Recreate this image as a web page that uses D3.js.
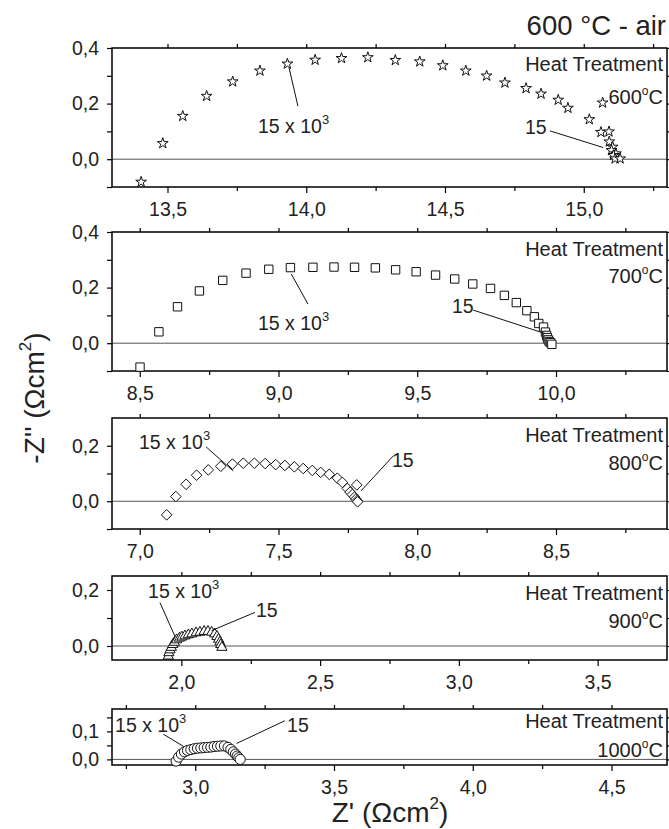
<!DOCTYPE html>
<html>
<head>
<meta charset="utf-8">
<script src="https://cdn.jsdelivr.net/npm/d3@7"></script>
<style>
body { margin: 0; background: #fff; }
svg { display: block; }
text { font-family: "Liberation Sans", Arial, sans-serif; }
</style>
</head>
<body>
<div id="chart"></div>
<script>
// impedance spectra, Z' vs -Z'' (Ohm cm2), one panel per heat treatment
let temps = ["600", "700", "800", "900", "1000"];

let z600 = [[13.405,-0.082],[13.483,0.057],[13.555,0.155],[13.641,0.227],[13.735,0.279],[13.833,0.318],
  [13.932,0.343],[14.032,0.357],[14.127,0.363],[14.222,0.366],[14.321,0.356],[14.409,0.351],[14.492,0.337],
  [14.575,0.318],[14.650,0.300],[14.716,0.275],[14.792,0.255],[14.846,0.235],[14.908,0.213],[14.943,0.184],
  [15.068,0.203],[15.020,0.143],[15.062,0.097],[15.091,0.099],[15.092,0.063],[15.104,0.044],[15.100,0.032],
  [15.116,0.020],[15.107,0.014],[15.113,0.002],[15.131,0.002]];

let z700 = [[8.501,-0.086],[8.569,0.041],[8.636,0.131],[8.715,0.188],[8.799,0.226],[8.883,0.252],[8.965,0.266],
  [9.043,0.272],[9.124,0.273],[9.200,0.274],[9.274,0.273],[9.349,0.271],[9.422,0.264],[9.496,0.257],[9.566,0.245],
  [9.635,0.231],[9.700,0.213],[9.764,0.197],[9.814,0.172],[9.857,0.146],[9.895,0.117],[9.922,0.095],[9.938,0.071],
  [9.955,0.058],[9.962,0.040],[9.966,0.028],[9.969,0.020],[9.972,0.012],[9.976,0.006],[9.980,0.002],[9.985,-0.004]];

let z800 = [[7.097,-0.049],[7.130,0.017],[7.167,0.061],[7.205,0.094],[7.247,0.113],[7.292,0.126],[7.334,0.134],
  [7.373,0.137],[7.413,0.137],[7.452,0.136],[7.490,0.132],[7.523,0.129],[7.557,0.124],[7.589,0.118],[7.622,0.111],
  [7.652,0.104],[7.683,0.097],[7.712,0.083],[7.730,0.068],[7.748,0.046],[7.758,0.033],[7.766,0.024],[7.774,0.015],
  [7.779,0.008],[7.783,0.002],[7.785,-0.002],[7.782,0.059]];

let z900 = [[1.953,-0.036],[1.955,-0.024],[1.959,-0.014],[1.964,-0.005],[1.969,0.005],[1.975,0.013],[1.983,0.022],
  [1.993,0.028],[2.002,0.032],[2.013,0.036],[2.025,0.040],[2.038,0.043],[2.053,0.047],[2.067,0.049],[2.082,0.052],
  [2.096,0.052],[2.109,0.049],[2.120,0.043],[2.128,0.034],[2.134,0.024],[2.139,0.014],[2.142,0.005],[2.146,-0.005]];

let z1000 = [[2.931,-0.006],[2.940,0.008],[2.950,0.019],[2.961,0.027],[2.972,0.032],[2.984,0.035],[2.996,0.038],
  [3.008,0.040],[3.020,0.041],[3.032,0.042],[3.044,0.043],[3.056,0.044],[3.068,0.046],[3.080,0.047],[3.092,0.048],
  [3.105,0.048],[3.118,0.043],[3.128,0.036],[3.137,0.027],[3.145,0.019],[3.151,0.012],[3.157,0.006],[3.162,0.000]];

let series = [z600, z700, z800, z900, z1000];

let xDomains = [[13.3,15.3],[8.4,10.4],[6.9,8.9],[1.75,3.75],[2.7,4.7]];
let yDomains = [[-0.1,0.4],[-0.1,0.4],[-0.1,0.3],[-0.05,0.25],[-0.02,0.18]];
let xTicks = [[13.5,14,14.5,15],[8.5,9,9.5,10],[7,7.5,8,8.5],[2,2.5,3,3.5],[3,3.5,4,4.5]];
let xMinor = [[13.75,14.25,14.75,15.25],[8.75,9.25,9.75,10.25],[7.25,7.75,8.25,8.75],[2.25,2.75,3.25],[2.75,3.25,3.75,4.25]];
let yTicks = [[0,0.2,0.4],[0,0.2,0.4],[0,0.2],[0,0.2],[0,0.1]];
let yMinor = [[-0.1,0.1,0.3],[-0.1,0.1,0.3],[-0.1,0.1],[0.1],[0.05,0.15]];

// frequency labels "15 x 10^3" (high) and "15" (low): text anchor + leader line, in data units
let hfText = [[13.826,0.094],[8.926,0.047],[6.997,0.188],[1.880,0.170],[2.711,0.097]];
let hfLine = [[[13.938,0.329],[13.970,0.191]],[[9.046,0.249],[9.106,0.141]],[[7.239,0.196],[7.337,0.109]],
  [[1.923,0.155],[1.977,0.034]],[[2.885,0.090],[2.957,0.047]]];
let lfText = [[14.788,0.090],[9.625,0.108],[7.909,0.123],[2.269,0.105],[3.331,0.097]];
let lfLine = [[[14.878,0.102],[15.070,0.042]],[[9.702,0.119],[9.960,0.035]],[[7.914,0.164],[7.797,0.037]],
  [[2.265,0.120],[2.109,0.055]],[[3.323,0.138],[3.149,0.057]]];

// layout
let width = 669, height = 829;
let left = 112, right = 667;
let tops = [48, 232, 418, 576, 709];
let bottoms = [187, 371, 529, 660, 765];
let labelOffsets = [[23, 56], [24, 51], [24, 52], [24, 52], [19, 48]];
let symbols = [d3.symbolStar, d3.symbolSquare, d3.symbolDiamond2, d3.symbolTriangle, d3.symbolCircle];
let symSizes = [36, 70, 72, 45, 80];

let fmt = v => d3.format(".1f")(v).replace(".", ",");

let svg = d3.select("#chart").append("svg")
  .attr("width", width)
  .attr("height", height);

series.forEach((data, i) => {
  let x = d3.scaleLinear().domain(xDomains[i]).range([left, right]);
  let y = d3.scaleLinear().domain(yDomains[i]).range([bottoms[i], tops[i]]);
  let g = svg.append("g");

  // zero line
  g.append("line")
    .attr("x1", left).attr("x2", right)
    .attr("y1", y(0)).attr("y2", y(0))
    .attr("stroke", "#555").attr("stroke-width", 1);

  // axes
  g.append("g").attr("transform", `translate(0,${bottoms[i]})`)
    .call(d3.axisBottom(x).tickValues(xTicks[i]).tickSize(6).tickPadding(9).tickFormat(fmt));
  g.append("g").attr("transform", `translate(0,${bottoms[i]})`)
    .call(d3.axisBottom(x).tickValues(xMinor[i]).tickSize(4).tickFormat(""));
  g.append("g").attr("transform", `translate(0,${tops[i]})`)
    .call(d3.axisTop(x).tickValues(xTicks[i].concat(xMinor[i])).tickSize(4).tickFormat(""));
  g.append("g").attr("transform", `translate(${left},0)`)
    .call(d3.axisLeft(y).tickValues(yTicks[i]).tickSize(5).tickPadding(8).tickFormat(fmt));
  g.append("g").attr("transform", `translate(${left},0)`)
    .call(d3.axisLeft(y).tickValues(yMinor[i]).tickSize(5).tickFormat(""));
  g.append("g").attr("transform", `translate(${right},0)`)
    .call(d3.axisRight(y).tickValues(yTicks[i].concat(yMinor[i])).tickSize(5).tickFormat(""));
  g.selectAll(".domain").remove();
  g.selectAll(".tick line").attr("stroke", "#000").attr("stroke-width", 1.2);
  g.selectAll(".tick text").attr("font-size", 19.5).attr("fill", "#222")
    .style("font-family", '"Liberation Sans", Arial, sans-serif');

  // frame
  g.append("rect")
    .attr("x", left).attr("y", tops[i])
    .attr("width", right - left).attr("height", bottoms[i] - tops[i])
    .attr("fill", "none").attr("stroke", "#000").attr("stroke-width", 1.5);

  // points
  g.selectAll("path.pt")
    .data(data)
    .join("path")
    .attr("class", "pt")
    .attr("transform", d => `translate(${x(d[0])},${y(d[1])})`)
    .attr("d", d3.symbol(symbols[i], symSizes[i]))
    .attr("fill", "#fff")
    .attr("stroke", "#111")
    .attr("stroke-width", 1);

  // leader lines and frequency labels
  [hfLine[i], lfLine[i]].forEach(l => {
    g.append("line")
      .attr("x1", x(l[0][0])).attr("y1", y(l[0][1]))
      .attr("x2", x(l[1][0])).attr("y2", y(l[1][1]))
      .attr("stroke", "#111").attr("stroke-width", 1);
  });
  let hf = g.append("text")
    .attr("x", x(hfText[i][0])).attr("y", y(hfText[i][1]))
    .attr("font-size", 19.5).attr("fill", "#222")
    .text("15 x 10");
  hf.append("tspan").attr("font-size", 13).attr("dy", -9).text("3");
  g.append("text")
    .attr("x", x(lfText[i][0])).attr("y", y(lfText[i][1]))
    .attr("font-size", 19.5).attr("fill", "#222")
    .text("15");

  // heat treatment label
  g.append("text")
    .attr("x", 663).attr("y", tops[i] + labelOffsets[i][0])
    .attr("text-anchor", "end").attr("font-size", 20).attr("fill", "#222")
    .text("Heat Treatment");
  let tl = g.append("text")
    .attr("x", 663).attr("y", tops[i] + labelOffsets[i][1])
    .attr("text-anchor", "end").attr("font-size", 20).attr("fill", "#222")
    .text(temps[i]);
  tl.append("tspan").attr("font-size", 12).attr("dy", -9).text("o");
  tl.append("tspan").attr("dy", 9).text("C");
});

// title
svg.append("text")
  .attr("x", 666).attr("y", 35)
  .attr("text-anchor", "end").attr("font-size", 27.5).attr("fill", "#222")
  .text("600 \u00B0C - air");

// axis titles
let xt = svg.append("text")
  .attr("x", 390).attr("y", 822)
  .attr("text-anchor", "middle").attr("font-size", 28).attr("fill", "#222")
  .text("Z' (\u03A9cm");
xt.append("tspan").attr("font-size", 17).attr("dy", -13).text("2");
xt.append("tspan").attr("dy", 13).text(")");

let yt = svg.append("text")
  .attr("transform", "translate(44,398) rotate(-90)")
  .attr("text-anchor", "middle").attr("font-size", 28).attr("fill", "#222")
  .text("-Z'' (\u03A9cm");
yt.append("tspan").attr("font-size", 17).attr("dy", -13).text("2");
yt.append("tspan").attr("dy", 13).text(")");
</script>
</body>
</html>
